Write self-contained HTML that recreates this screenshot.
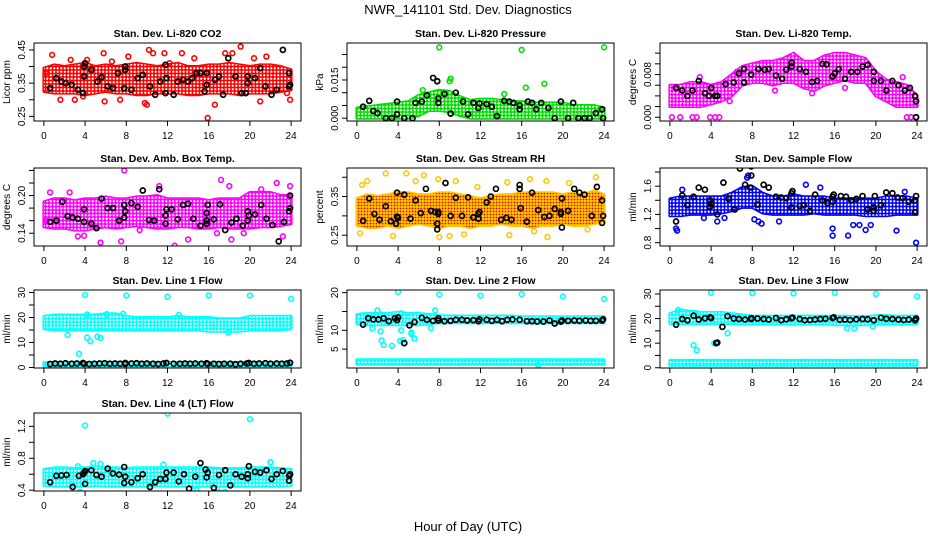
<!DOCTYPE html>
<html><head><meta charset="utf-8"><style>
html,body{margin:0;padding:0;background:#fff}
svg{display:block;font-family:"Liberation Sans",sans-serif}
</style></head><body>
<svg id="chart" width="936" height="540" viewBox="0 0 936 540" xmlns="http://www.w3.org/2000/svg">
<defs>
<pattern id="dots" patternUnits="userSpaceOnUse" width="3.5" height="3.5"><circle cx="1.75" cy="1.75" r="1.1" fill="#fff"/></pattern>
<pattern id="reddots" patternUnits="userSpaceOnUse" width="3" height="3"><circle cx="1.5" cy="1.5" r="0.9" fill="#e00000"/></pattern>
</defs>
<text x="468" y="14" font-size="13" text-anchor="middle">NWR_141101  Std. Dev. Diagnostics</text>
<text x="468" y="531" font-size="13" text-anchor="middle">Hour of Day (UTC)</text>
</svg>
<script>
const hours=[0,1,2,3,4,5,6,7,8,9,10,11,12,13,14,15,16,17,18,19,20,21,22,23,24];
const xTicks=[0,4,8,12,16,20,24];

const co2Lo=[0.325,0.32,0.32,0.32,0.315,0.32,0.325,0.32,0.32,0.315,0.315,0.32,0.32,0.32,0.315,0.315,0.32,0.32,0.32,0.315,0.32,0.32,0.32,0.325,0.33];
const co2Hi=[0.395,0.405,0.40,0.405,0.41,0.40,0.405,0.40,0.405,0.41,0.405,0.40,0.405,0.41,0.40,0.40,0.405,0.405,0.41,0.405,0.40,0.405,0.405,0.40,0.39];
const co2Pts=[[0.8,0.435],[1.6,0.30],[3.0,0.30],[4.2,0.42],[5.8,0.44],[7.4,0.30],[8.2,0.43],[10.2,0.45],[10.6,0.44],[12.2,0.41],[13.4,0.44],[15.9,0.245],[16.6,0.285],[17.6,0.44],[18.3,0.44],[19.1,0.46],[21,0.295],[21.6,0.43],[23.6,0.32],[23.9,0.30],[9.8,0.29],[11.7,0.44],[14.6,0.425],[3.8,0.31],[2.6,0.42],[5.9,0.295],[10.0,0.285],[20.4,0.425],[0.2,0.38],[6.6,0.415]];
const co2Black=[[0.6,0.335],[1.2,0.365],[1.7,0.355],[2.1,0.35],[2.7,0.345],[3.3,0.33],[3.8,0.32],[3.9,0.37],[3.9,0.40],[4.0,0.41],[4.6,0.39],[5.2,0.355],[5.6,0.368],[6.2,0.34],[6.7,0.335],[7.2,0.38],[7.8,0.335],[7.9,0.39],[7.9,0.40],[8.5,0.33],[9.1,0.365],[9.6,0.375],[10.3,0.34],[10.8,0.315],[11.3,0.355],[11.8,0.32],[11.9,0.365],[11.8,0.405],[12.6,0.315],[13.0,0.355],[13.5,0.36],[14.0,0.355],[14.4,0.365],[14.8,0.38],[15.2,0.38],[15.6,0.325],[15.8,0.345],[15.8,0.38],[16.6,0.36],[17.0,0.37],[17.4,0.315],[17.9,0.425],[18.6,0.37],[19.2,0.32],[19.6,0.32],[19.8,0.35],[19.8,0.37],[20.5,0.365],[21.0,0.395],[21.5,0.34],[22.1,0.315],[22.6,0.33],[23.2,0.45],[23.8,0.34],[23.8,0.38],[23.9,0.345]];

const presLo=[0,0,0,0,0,0,0.001,0.003,0.003,0.0025,0.001,0,0,0,0,0,0,0,0,0,0,0,0,0,0];
const presHi=[0.004,0.0045,0.005,0.0055,0.006,0.0065,0.009,0.010,0.011,0.0105,0.0085,0.007,0.0075,0.0075,0.007,0.0065,0.0065,0.006,0.006,0.006,0.006,0.005,0.005,0.005,0.004];
const presPts=[[8,0.0278],[16,0.0268],[24,0.0278],[9.1,0.0155],[9.0,0.0145],[16.4,0.012],[18.2,0.0135],[7.8,0.0145],[6.4,0.011],[14.3,0.0095]];
const presBlack=[[0.6,0.0045],[1.2,0.0068],[1.6,0.0028],[2.0,0.002],[2.8,0],[3.4,0],[3.9,0.0015],[3.9,0.0065],[4.6,0],[5.4,0],[5.7,0.006],[6.3,0.0065],[6.8,0.009],[7.4,0.0158],[7.8,0.0145],[7.9,0.0078],[7.9,0.006],[8.5,0.0095],[9.1,0.0018],[9.6,0.010],[10.3,0.0065],[10.8,0.0015],[11.3,0.006],[11.8,0.004],[11.9,0.0058],[12.6,0.0055],[13.1,0.0045],[13.6,0.0008],[14.3,0.0068],[14.8,0.0065],[15.2,0.006],[15.8,0.0035],[15.8,0.005],[16.6,0.0065],[17.0,0.006],[17.4,0.0035],[17.9,0.006],[18.6,0.004],[19.2,0],[19.8,0.0065],[20.5,0],[21.0,0.006],[21.5,0],[22.1,0],[22.6,0],[23.2,0.002],[23.8,0.0035],[23.9,0]];

const tempLo=[0.002,0.002,0.002,0.002,0.0025,0.003,0.004,0.006,0.0065,0.0065,0.006,0.0065,0.0065,0.0055,0.005,0.006,0.0065,0.007,0.0065,0.0065,0.004,0.003,0.002,0.002,0.002];
const tempHi=[0.006,0.006,0.0065,0.0065,0.006,0.0065,0.008,0.0095,0.010,0.0105,0.0105,0.011,0.012,0.0105,0.0105,0.0115,0.012,0.012,0.0115,0.011,0.0085,0.007,0.0065,0.006,0.004];
const tempPts=[[0.2,0],[1.0,0],[2.2,0],[2.6,0],[3.9,0],[4.4,0],[4.8,0],[23.0,0],[23.4,0],[23.9,0],[2.9,0.0075],[6.5,0.0085],[10.2,0.005],[13.8,0.0045],[17.0,0.0055],[22.6,0.0075],[5.8,0.003]];
const tempBlack=[[0.6,0.0055],[1.2,0.005],[1.7,0.004],[2.2,0.005],[2.8,0.0068],[3.4,0.0045],[3.8,0.004],[4.0,0.0055],[4.4,0.004],[4.6,0.004],[5.4,0.0062],[6.2,0.0065],[6.7,0.0082],[7.2,0.009],[7.2,0.0065],[7.9,0.008],[8.6,0.009],[9.2,0.0089],[9.6,0.009],[10.3,0.0078],[10.9,0.0072],[11.3,0.0089],[11.8,0.0095],[11.8,0.0102],[12.6,0.009],[13.2,0.0085],[13.8,0.0066],[14.3,0.0068],[14.8,0.010],[15.2,0.0099],[15.8,0.0076],[16.0,0.0082],[16.4,0.009],[17.0,0.0072],[17.6,0.0085],[18.2,0.0085],[18.7,0.0095],[19.2,0.0098],[19.8,0.0085],[19.8,0.0068],[20.5,0.0068],[21.0,0.005],[21.6,0.0068],[22.2,0.006],[22.8,0.005],[23.3,0.0055],[23.8,0.004],[23.9,0.003],[23.9,0]];

const ambLo=[0.15,0.148,0.148,0.145,0.145,0.148,0.15,0.148,0.15,0.152,0.15,0.148,0.148,0.15,0.15,0.148,0.148,0.15,0.148,0.148,0.148,0.15,0.15,0.152,0.155];
const ambHi=[0.19,0.195,0.195,0.192,0.195,0.195,0.198,0.195,0.195,0.198,0.198,0.2,0.195,0.195,0.195,0.195,0.192,0.195,0.195,0.195,0.205,0.205,0.205,0.2,0.2];
const ambPts=[[7.8,0.24],[17.2,0.225],[18.0,0.215],[23.9,0.215],[22.6,0.22],[5.5,0.125],[7.5,0.127],[12.7,0.12],[3.3,0.135],[16.8,0.14],[18.2,0.13],[23.2,0.135],[11.2,0.215],[0.2,0.16],[0.6,0.205],[2.5,0.205],[14.0,0.13],[3.9,0.136],[9.3,0.145],[19.4,0.14],[21.1,0.21]];
const ambBlack=[[0.6,0.158],[1.2,0.16],[1.8,0.19],[2.3,0.167],[2.8,0.165],[3.3,0.163],[3.9,0.158],[3.9,0.178],[4.6,0.155],[5.1,0.148],[5.6,0.195],[6.2,0.18],[6.7,0.18],[7.3,0.16],[7.8,0.165],[7.8,0.185],[7.9,0.175],[8.5,0.188],[9.1,0.182],[9.6,0.208],[10.2,0.161],[10.7,0.16],[11.2,0.21],[11.8,0.155],[11.8,0.168],[11.9,0.178],[12.4,0.178],[13.0,0.162],[13.5,0.185],[14.0,0.187],[14.5,0.163],[15.2,0.152],[15.8,0.155],[15.8,0.16],[15.8,0.172],[15.9,0.185],[16.5,0.162],[17.1,0.186],[17.6,0.145],[18.2,0.157],[18.7,0.163],[19.3,0.152],[19.8,0.16],[19.8,0.175],[19.9,0.168],[20.5,0.17],[21.1,0.185],[21.6,0.163],[22.2,0.153],[22.8,0.127],[23.3,0.158],[23.8,0.175],[23.9,0.18],[23.9,0.2]];

const rhLo=[0.275,0.27,0.27,0.275,0.27,0.275,0.28,0.275,0.27,0.275,0.275,0.27,0.275,0.275,0.28,0.275,0.275,0.27,0.275,0.275,0.28,0.275,0.275,0.28,0.285];
const rhHi=[0.345,0.355,0.35,0.355,0.36,0.36,0.355,0.355,0.36,0.36,0.355,0.35,0.345,0.35,0.355,0.355,0.36,0.36,0.36,0.36,0.355,0.36,0.355,0.365,0.355];
const rhPts=[[0.5,0.38],[1.0,0.39],[2.8,0.41],[4.8,0.41],[5.7,0.39],[6.5,0.405],[7.9,0.395],[9.6,0.39],[14.6,0.387],[18.4,0.39],[23.2,0.4],[0.3,0.255],[3.5,0.248],[8.0,0.245],[9.0,0.248],[10.4,0.252],[14.8,0.25],[17.2,0.26],[18.5,0.245],[22.4,0.265],[11.7,0.375],[16.8,0.395],[20.6,0.385]];
const rhBlack=[[0.6,0.287],[1.2,0.345],[1.7,0.305],[2.2,0.29],[2.8,0.325],[3.3,0.286],[3.8,0.28],[3.9,0.298],[3.9,0.36],[4.0,0.295],[4.6,0.355],[5.2,0.293],[5.7,0.34],[6.2,0.307],[6.7,0.37],[7.2,0.313],[7.6,0.31],[7.8,0.28],[7.8,0.265],[7.9,0.305],[7.9,0.31],[8.6,0.385],[9.1,0.3],[9.6,0.347],[10.2,0.3],[10.8,0.348],[11.3,0.296],[11.8,0.293],[11.8,0.305],[11.9,0.31],[12.6,0.335],[13.0,0.35],[13.5,0.37],[14.0,0.29],[14.5,0.295],[15.0,0.29],[15.8,0.37],[15.8,0.38],[15.9,0.32],[16.5,0.285],[17.0,0.36],[17.6,0.315],[18.2,0.297],[18.7,0.3],[19.2,0.318],[19.8,0.305],[19.8,0.31],[19.9,0.345],[19.9,0.27],[20.5,0.313],[21.1,0.37],[21.6,0.36],[22.1,0.355],[22.8,0.3],[23.3,0.375],[23.8,0.282],[23.8,0.34],[23.9,0.3]];

const flowLo=[1.18,1.18,1.2,1.2,1.2,1.22,1.25,1.3,1.3,1.22,1.2,1.2,1.2,1.2,1.22,1.2,1.2,1.2,1.2,1.18,1.18,1.18,1.2,1.2,1.2];
const flowHi=[1.42,1.45,1.45,1.45,1.45,1.45,1.5,1.58,1.6,1.5,1.45,1.45,1.48,1.45,1.45,1.45,1.42,1.42,1.42,1.42,1.42,1.45,1.45,1.45,1.42];
const flowPts=[[0.6,1.0],[0.7,0.97],[1.2,1.55],[3.3,1.15],[4.6,1.1],[5.3,1.15],[7.5,1.72],[7.6,1.75],[8.2,1.13],[8.6,1.1],[8.9,1.07],[13.2,1.62],[15.8,1.0],[15.8,0.9],[17.3,0.9],[17.8,1.05],[18.4,1.05],[19.0,0.98],[19.5,1.05],[22.0,0.97],[23.9,0.8],[22.8,1.52],[10.6,1.1],[14.6,1.58]];
const flowBlack=[[0.6,1.1],[1.2,1.47],[1.7,1.33],[2.3,1.45],[2.8,1.58],[3.4,1.55],[3.9,1.31],[3.9,1.4],[4.0,1.35],[4.6,1.2],[5.2,1.65],[5.7,1.42],[6.3,1.27],[6.8,1.85],[7.3,1.62],[7.8,1.58],[7.9,1.75],[7.9,1.88],[8.5,1.34],[9.1,1.62],[9.6,1.58],[10.3,1.45],[10.8,1.44],[11.3,1.43],[11.8,1.5],[11.9,1.53],[11.8,1.3],[12.6,1.32],[13.0,1.33],[13.6,1.25],[14.1,1.48],[14.8,1.4],[15.3,1.36],[15.8,1.38],[15.8,1.45],[15.9,1.48],[16.6,1.46],[17.1,1.45],[17.6,1.4],[18.1,1.42],[18.7,1.46],[19.2,1.27],[19.8,1.25],[19.8,1.3],[19.9,1.46],[20.5,1.33],[21.0,1.51],[21.6,1.5],[22.1,1.44],[22.6,1.43],[23.2,1.38],[23.8,1.23],[23.8,1.4],[23.9,1.46]];

const l1Lo=[15.5,15,15,15,15,15,15,15,15,15,15,15,15,15,15,15,14.5,14.5,14.5,14.5,15,15,15,15,15.5];
const l1Hi=[20.5,21,21,21,21,21,21.5,21.5,20.5,20,20,20,20,20.5,20,20,20,19.5,19.5,19.5,20.5,20.5,20.5,20.5,20.5];
const l1bLo=[0.6,0.6,0.6,0.6,0.6,0.6,0.6,0.6,0.6,0.6,0.6,0.6,0.6,0.6,0.6,0.6,0.6,0.6,0.6,0.6,0.6,0.6,0.6,0.6,0.6];
const l1bHi=[2,2,2,2,2,2,2,2,2,2,2,2,2,2,2,2,2,2,2,2,2,2,2,2,2];
const l1Pts=[[4,29],[8,28.8],[12,28.3],[16,28.8],[20,28.8],[24,27.5],[3.4,5.5],[2.3,13],[4.2,12],[4.5,10.5],[5.2,12.3],[5.5,11.8],[4.2,21.2],[6.1,21.3],[7.7,21.5],[13.1,21],[17.9,14]];
const l1Black=[[0.6,1.4],[1.1,1.6],[1.6,1.5],[2.1,1.7],[2.7,1.5],[3.2,1.6],[3.8,1.8],[3.9,1.5],[4.4,1.4],[4.9,1.5],[5.4,1.6],[5.9,1.7],[6.4,1.5],[6.9,1.6],[7.4,1.5],[7.9,1.4],[7.9,1.8],[8.5,1.6],[9.0,1.7],[9.5,1.5],[10.0,1.6],[10.6,1.5],[11.1,1.4],[11.6,1.6],[11.9,1.8],[12.6,1.5],[13.2,1.5],[13.7,1.6],[14.2,1.5],[14.7,1.6],[15.3,1.5],[15.8,1.7],[15.9,1.4],[16.5,1.5],[17.0,1.4],[17.5,1.5],[18.1,1.5],[18.6,1.3],[19.1,1.5],[19.7,1.6],[19.9,1.8],[20.4,1.5],[20.9,1.6],[21.5,1.7],[22.0,1.5],[22.6,1.6],[23.1,1.5],[23.6,1.6],[23.9,1.9]];

const l2Lo=[11.8,11.5,11.5,11.5,11.5,11.5,11.5,11.8,12,12,12,12,12,12,12,12,12,12,12,12,12,12,12,12,12];
const l2Hi=[14.2,14.5,14.5,14.5,14.8,14.5,14.5,14.2,13.9,13.8,13.8,13.8,13.8,13.8,13.8,13.8,13.6,13.6,13.6,13.6,13.6,13.6,13.6,13.6,13.6];
const l2bLo=[1,1,1,1,1,1,1,1,1,1,1,1,1,1,1,1,1,1,1,1,1,1,1,1,1];
const l2bHi=[2.2,2.2,2.2,2.2,2.2,2.2,2.2,2.2,2.2,2.2,2.2,2.2,2.2,2.2,2.2,2.2,2.2,2.2,2.2,2.2,2.2,2.2,2.2,2.2,2.2];
const l2Pts=[[4,20.2],[8,19.5],[12,19.2],[16,19.6],[20,19],[24,18.3],[1.5,10.5],[2.3,9.7],[2.4,7.3],[2.6,6.1],[3.4,5.9],[4.2,7.2],[4.5,7.4],[4.3,10],[5.3,9.4],[5.6,7.8],[5.3,9],[2.0,15.3],[7.6,15.3],[7.2,10.6],[4.3,14.5],[17.6,0.8]];
const l2Black=[[0.6,11.5],[1.1,13.2],[1.6,12.9],[2.1,12.9],[2.6,13.2],[3.1,12.4],[3.7,13.2],[3.9,12.7],[4.0,13.4],[4.6,6.6],[5.1,11.3],[5.6,12.2],[6.3,13.3],[6.8,12.8],[7.4,12.5],[7.9,12.6],[7.9,13.2],[8.5,12.4],[9.1,12.5],[9.6,12.8],[10.2,12.8],[10.7,12.6],[11.3,12.7],[11.8,12.4],[11.9,12.9],[12.6,12.8],[13.1,12.5],[13.6,12.8],[14.1,12.4],[14.6,12.8],[15.1,12.9],[15.8,12.8],[16.5,12.4],[17.0,12.4],[17.5,12.3],[18.1,12.3],[18.7,12.6],[19.2,11.8],[19.8,12.3],[19.9,12.6],[20.5,12.5],[21.1,12.6],[21.6,12.5],[22.2,12.6],[22.7,12.5],[23.2,12.5],[23.8,12.6],[23.9,12.9]];

const l3Lo=[18,18,18,18,18,18,18,17.8,17.8,17.8,17.8,17.8,17.8,17.8,17.8,17.8,17.5,17.5,17.5,17.5,17.8,17.8,17.8,17.8,18];
const l3Hi=[22,23.5,23,22.5,22.5,22.5,22,21.5,21,21,21,21,21,21,21,21,21,21,20.8,20.8,21.2,21.2,21,21,21];
const l3bLo=[1,1,1,1,1,1,1,1,1,1,1,1,1,1,1,1,1,1,1,1,1,1,1,1,1];
const l3bHi=[3,3,3,3,3,3,3,3,3,3,3,3,3,3,3,3,3,3,3,3,3,3,3,3,3];
const l3Pts=[[4,30.5],[8,30.3],[12,30.2],[16,30.5],[20,30],[24,29],[2.3,9.2],[2.6,7.1],[4.3,10],[5.6,14],[17.2,16],[17.9,16],[19.7,16.8],[2.5,22.3],[0.8,23.5]];
const l3Black=[[0.6,17.5],[1.2,19.8],[1.7,19.3],[2.3,21.2],[2.8,19.6],[3.4,20.1],[3.9,20.5],[4.0,20.2],[4.6,10.2],[4.5,10],[5.1,16.6],[5.6,21],[6.2,20],[6.7,19.8],[7.3,19.6],[7.9,19.8],[7.9,20.2],[8.5,20],[9.1,19.8],[9.6,19.6],[10.3,20.2],[10.8,19.3],[11.3,19.7],[11.8,20.1],[11.9,20.4],[12.6,19.8],[13.1,19.3],[13.6,19.4],[14.1,19.6],[14.6,19.8],[15.1,19.9],[15.8,20.2],[15.9,20.5],[16.5,19.5],[17.0,19.6],[17.5,19.4],[18.1,19.7],[18.7,19.8],[19.2,19.7],[19.8,19.3],[20.5,20.3],[21.0,19.9],[21.6,19.8],[22.2,19.6],[22.7,19.4],[23.2,19.6],[23.8,19.3],[23.9,20]];

const l4Lo=[0.46,0.45,0.45,0.45,0.45,0.46,0.45,0.45,0.45,0.45,0.45,0.46,0.45,0.45,0.45,0.45,0.45,0.45,0.45,0.45,0.45,0.45,0.45,0.45,0.46];
const l4Hi=[0.66,0.68,0.68,0.67,0.68,0.7,0.68,0.68,0.67,0.68,0.68,0.68,0.68,0.68,0.68,0.68,0.68,0.67,0.67,0.67,0.68,0.68,0.68,0.67,0.66];
const l4Pts=[[4,1.21],[12,1.36],[20,1.29],[3.5,0.38],[9.7,0.36],[17,0.38],[17.6,0.38],[22,0.75],[4.8,0.74],[14.8,0.4],[5.5,0.73],[11.6,0.72],[3.3,0.7]];
const l4Black=[[0.6,0.5],[1.2,0.58],[1.7,0.585],[2.2,0.59],[2.8,0.44],[3.4,0.58],[3.8,0.6],[3.9,0.62],[4.0,0.48],[4.0,0.64],[4.6,0.65],[5.1,0.59],[5.6,0.57],[6.2,0.67],[6.7,0.61],[7.3,0.595],[7.8,0.49],[7.8,0.69],[7.9,0.57],[8.5,0.5],[9.1,0.55],[9.6,0.6],[10.3,0.44],[10.8,0.5],[11.3,0.54],[11.8,0.54],[11.9,0.62],[12.6,0.62],[13.1,0.51],[13.6,0.6],[14.1,0.42],[14.7,0.57],[15.2,0.74],[15.7,0.66],[15.8,0.56],[15.9,0.62],[16.5,0.43],[17.0,0.59],[17.6,0.65],[18.1,0.46],[18.6,0.6],[19.2,0.57],[19.8,0.6],[19.8,0.55],[19.9,0.7],[20.5,0.63],[21.0,0.62],[21.6,0.65],[22.1,0.54],[22.6,0.6],[23.2,0.64],[23.8,0.52],[23.8,0.58],[23.9,0.6]];

const NS="http://www.w3.org/2000/svg";
const svg=document.getElementById('chart');
function el(tag,parent){const e=document.createElementNS(NS,tag);parent.appendChild(e);return e;}

const panels=[
 {name:'co2',title:'Stan. Dev. Li-820 CO2',ylab:'Licor ppm',col:0,row:0,dom:[0.236,0.4708],ticks:[0.25,0.30,0.35,0.40,0.45],labels:['0.25','','0.35','','0.45'],color:'#ff0000',tex:'url(#dots)',bands:[[co2Lo,co2Hi]],pts:co2Pts,black:co2Black},
 {name:'pressure',title:'Stan. Dev. Li-820 Pressure',ylab:'kPa',col:1,row:0,dom:[-0.0011,0.0295],ticks:[0,0.005,0.010,0.015,0.020,0.025],labels:['0.000','','','0.015','',''],color:'#00e000',tex:'url(#dots)',bands:[[presLo,presHi]],pts:presPts,black:presBlack},
 {name:'temp',title:'Stan. Dev. Li-820 Temp.',ylab:'degrees C',col:2,row:0,dom:[-0.0007,0.0139],ticks:[0,0.002,0.004,0.006,0.008,0.010,0.012],labels:['0.000','','','','0.008','',''],color:'#ff00ff',tex:'url(#dots)',bands:[[tempLo,tempHi]],pts:tempPts,black:tempBlack},
 {name:'amb-temp',title:'Stan. Dev. Amb. Box Temp.',ylab:'degrees C',col:0,row:1,dom:[0.1196,0.2439],ticks:[0.14,0.16,0.18,0.20,0.22,0.24],labels:['0.14','','','0.20','',''],color:'#ff00ff',tex:'url(#dots)',bands:[[ambLo,ambHi]],pts:ambPts,black:ambBlack},
 {name:'rh',title:'Stan. Dev. Gas Stream RH',ylab:'percent',col:1,row:1,dom:[0.222,0.4239],ticks:[0.25,0.30,0.35,0.40],labels:['0.25','','0.35',''],color:'#ffc800',tex:'url(#reddots)',bands:[[rhLo,rhHi]],pts:rhPts,black:rhBlack},
 {name:'sample-flow',title:'Stan. Dev. Sample Flow',ylab:'ml/min',col:2,row:1,dom:[0.753,1.857],ticks:[0.8,1.0,1.2,1.4,1.6,1.8],labels:['0.8','','1.2','','1.6',''],color:'#0000ff',tex:'url(#dots)',bands:[[flowLo,flowHi]],pts:flowPts,black:flowBlack},
 {name:'line1',title:'Stan. Dev. Line 1 Flow',ylab:'ml/min',col:0,row:2,dom:[-0.2,31],ticks:[0,5,10,15,20,25,30],labels:['0','','10','','20','','30'],color:'#00ffff',tex:'url(#dots)',bands:[[l1Lo,l1Hi],[l1bLo,l1bHi]],pts:l1Pts,black:l1Black},
 {name:'line2',title:'Stan. Dev. Line 2 Flow',ylab:'ml/min',col:1,row:2,dom:[0,20.7],ticks:[5,10,15,20],labels:['5','10','','20'],color:'#00ffff',tex:'url(#dots)',bands:[[l2Lo,l2Hi],[l2bLo,l2bHi]],pts:l2Pts,black:l2Black},
 {name:'line3',title:'Stan. Dev. Line 3 Flow',ylab:'ml/min',col:2,row:2,dom:[-0.1,31.6],ticks:[0,5,10,15,20,25,30],labels:['0','','10','','20','','30'],color:'#00ffff',tex:'url(#dots)',bands:[[l3Lo,l3Hi],[l3bLo,l3bHi]],pts:l3Pts,black:l3Black},
 {name:'line4',title:'Stan. Dev. Line 4 (LT) Flow',ylab:'ml/min',col:0,row:3,dom:[0.39,1.367],ticks:[0.4,0.6,0.8,1.0,1.2],labels:['0.4','','0.8','','1.2'],color:'#00ffff',tex:'url(#dots)',bands:[[l4Lo,l4Hi]],pts:l4Pts,black:l4Black}
];
const colL=[34,347,660], rowT=[43,168,290,413], W=267, H=78;

panels.forEach(p=>{
 const L=colL[p.col], T=rowT[p.row], B=T+H, R=L+W;
 const xs=v=>L+(v+0.96)/25.92*W;
 const ys=v=>B-(v-p.dom[0])/(p.dom[1]-p.dom[0])*H;
 const g=el('g',svg);
 
 
 const clip=el('clipPath',g); clip.setAttribute('id','clip-'+p.name);
 const cr=el('rect',clip); cr.setAttribute('x',L);cr.setAttribute('y',T);cr.setAttribute('width',W);cr.setAttribute('height',H);
 const t=el('text',g);
 
 
 t.setAttribute('x',L+W/2);t.setAttribute('y',T-6);t.setAttribute('font-size','10.5');t.setAttribute('font-weight','bold');t.setAttribute('text-anchor','middle');
 t.textContent=p.title;
 const yl=el('text',g);
 
 
 yl.setAttribute('font-size','10');yl.setAttribute('text-anchor','middle');
 yl.setAttribute('transform','translate('+(L-24)+','+(T+H/2)+') rotate(-90)');
 yl.textContent=p.ylab;
 const data=el('g',g); data.setAttribute('clip-path','url(#clip-'+p.name+')');
 
 
 p.bands.forEach(b=>{
  let d='';
  hours.forEach((h,i)=>{d+=(i?'L':'M')+xs(h).toFixed(1)+','+ys(b[1][i]).toFixed(1);});
  for(let i=hours.length-1;i>=0;i--){d+='L'+xs(hours[i]).toFixed(1)+','+ys(b[0][i]).toFixed(1);}
  d+='Z';
  const a=el('path',data);
  
  
  a.setAttribute('d',d);a.setAttribute('fill',p.color);a.setAttribute('stroke',p.color);a.setAttribute('stroke-width','3');a.setAttribute('stroke-linejoin','round');
  const a2=el('path',data);
  
  
  a2.setAttribute('d',d);a2.setAttribute('fill',p.tex);
 });
 p.pts.forEach(q=>{
  const c=el('circle',data);
  
  
  c.setAttribute('cx',xs(q[0]));c.setAttribute('cy',ys(q[1]));c.setAttribute('r','2.4');c.setAttribute('fill','none');c.setAttribute('stroke',p.color);c.setAttribute('stroke-width','1.6');
 });
 p.black.forEach(q=>{
  const c=el('circle',data);
  
  
  c.setAttribute('cx',xs(q[0]));c.setAttribute('cy',ys(q[1]));c.setAttribute('r','2.5');c.setAttribute('fill','none');c.setAttribute('stroke','#000');c.setAttribute('stroke-width','1.7');
 });
 const box=el('rect',g);
 
 
 box.setAttribute('x',L);box.setAttribute('y',T);box.setAttribute('width',W);box.setAttribute('height',H);box.setAttribute('fill','none');box.setAttribute('stroke','#000');box.setAttribute('stroke-width','1');
 xTicks.forEach(v=>{
  const tk=el('line',g);
  
  
  tk.setAttribute('x1',xs(v));tk.setAttribute('x2',xs(v));tk.setAttribute('y1',B);tk.setAttribute('y2',B+5);tk.setAttribute('stroke','#000');
  const tl=el('text',g);
  
  
  tl.setAttribute('x',xs(v));tl.setAttribute('y',B+18);tl.setAttribute('font-size','10');tl.setAttribute('text-anchor','middle');
  tl.textContent=String(v);
 });
 p.ticks.forEach((v,i)=>{
  const tk=el('line',g);
  
  
  tk.setAttribute('x1',L-5);tk.setAttribute('x2',L);tk.setAttribute('y1',ys(v));tk.setAttribute('y2',ys(v));tk.setAttribute('stroke','#000');
  if(p.labels[i]){
   const tl=el('text',g);
   
   
   tl.setAttribute('font-size','10');tl.setAttribute('text-anchor','middle');
   tl.setAttribute('transform','translate('+(L-9)+','+ys(v)+') rotate(-90)');
   tl.textContent=p.labels[i];
  }
 });
});
</script>
</body></html>
